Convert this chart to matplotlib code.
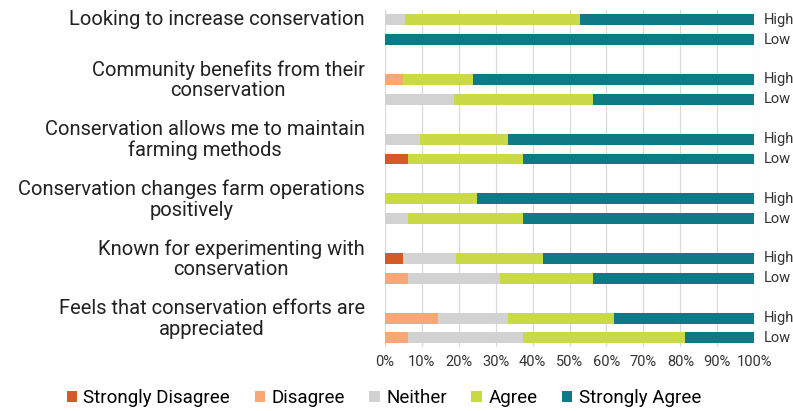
import matplotlib
matplotlib.use("Agg")
import matplotlib.pyplot as plt
import numpy as np

plt.rcParams['font.family'] = ['Roboto', 'DejaVu Sans']

# survey statements (top to bottom)
statements = [
    "Looking to increase conservation",
    "Community benefits from their\nconservation",
    "Conservation allows me to maintain\nfarming methods",
    "Conservation changes farm operations\npositively",
    "Known for experimenting with\nconservation",
    "Feels that conservation efforts are\nappreciated",
]
groups = ["High", "Low"]
responses = ["Strongly Disagree", "Disagree", "Neither", "Agree", "Strongly Agree"]
colors = ["#D35B27", "#F8A776", "#D2D2D2", "#C9DA46", "#0F7A86"]

# percent per statement, rows: High, Low
strongly_disagree = [0, 0, 0, 0, 0, 6.25, 0, 0, 4.8, 0, 0, 0]
disagree = [0, 0, 4.8, 0, 0, 0, 0, 0, 0, 6.25, 14.3, 6.25]
neither = [5.3, 0, 0, 18.75, 9.5, 0, 0, 6.25, 14.3, 25.0, 19.0, 31.25]
agree = [47.4, 0, 19.0, 37.5, 23.8, 31.25, 25.0, 31.25, 23.8, 25.0, 28.6, 43.75]
strongly_agree = [47.3, 100, 76.2, 43.75, 66.7, 62.5, 75.0, 62.5, 57.1, 43.75, 38.1, 18.75]

data = [strongly_disagree, disagree, neither, agree, strongly_agree]

fig = plt.figure(figsize=(7.93, 4.11), dpi=100)
ax = fig.add_axes([0.4855, 0.156, 0.4655, 0.82])

ypos = []
for i in range(len(statements)):
    ypos += [i * 3, i * 3 + 1]
ypos = np.array(ypos)

left = np.zeros(len(ypos))
for vals, col, name in zip(data, colors, responses):
    vals = np.array(vals)
    ax.barh(ypos, vals, left=left, height=0.55, color=col, label=name, zorder=3)
    left += vals

ax.set_xlim(0, 100)
ax.set_ylim(16.45, -0.5)
ax.set_xticks(np.arange(0, 101, 10))
ax.set_xticklabels([f"{t}%" for t in range(0, 101, 10)], fontsize=10.5, color="#333333")
ax.grid(axis="x", color="#D9D9D9", linewidth=0.9, zorder=0)
ax.set_yticks([])
ax.tick_params(axis="x", length=0, pad=6)
for s in ax.spines.values():
    s.set_visible(False)

# High / Low labels on the right
for y, g in zip(ypos, groups * len(statements)):
    ax.text(102.5, y, g, ha="left", va="center", fontsize=10.5, color="#333333")

# statement labels
for i, st in enumerate(statements):
    ax.text(-5.5, i * 3 if "\n" not in st else i * 3 + 0.05, st, ha="right", va="center",
            multialignment="center", fontsize=14.5, color="#222222", linespacing=1.1)

fig.legend(loc="center", bbox_to_anchor=(0.484, 0.032), ncol=5, frameon=False,
           fontsize=13.5, handlelength=0.55, handleheight=0.55, handletextpad=0.35,
           columnspacing=1.3)

fig.savefig("out.png", dpi=100)
